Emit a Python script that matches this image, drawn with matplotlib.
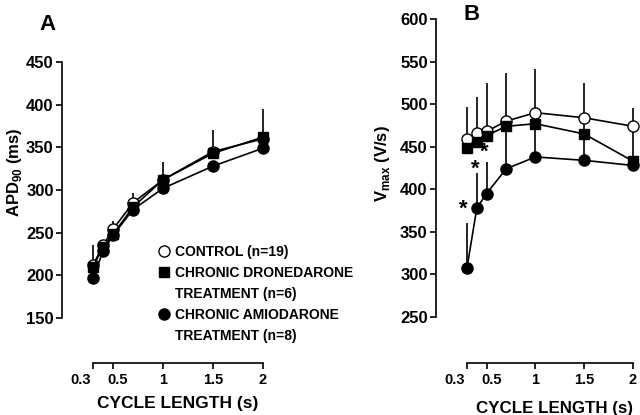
import matplotlib
matplotlib.use("Agg")
import matplotlib.pyplot as plt
from matplotlib.lines import Line2D
from matplotlib.transforms import ScaledTranslation

plt.rcParams['font.family'] = ['Liberation Sans', 'DejaVu Sans']
plt.rcParams['font.weight'] = 'bold'
plt.rcParams['mathtext.fontset'] = 'custom'
plt.rcParams['mathtext.rm'] = 'Liberation Sans'
plt.rcParams['mathtext.bf'] = 'Liberation Sans:bold'

# cycle lengths (s)
cycle = [0.3, 0.4, 0.5, 0.7, 1.0, 1.5, 2.0]

# panel A: APD90 (ms), upper error bars
apd_control = [212, 235, 254, 285, 312, 345, 360]
apd_control_err = [23, 5, 10, 12, 21, 25, 35]
apd_drone = [210, 233, 248, 280, 312, 343, 362]
apd_drone_err = [0, 0, 0, 0, 0, 0, 0]
apd_amio = [197, 228, 247, 277, 302, 328, 349]
apd_amio_err = [0, 0, 0, 0, 0, 0, 0]

# panel B: Vmax (V/s), upper error bars
vmax_control = [459, 466, 468, 480, 490, 484, 474]
vmax_control_err = [38, 42, 57, 57, 51, 41, 22]
vmax_drone = [448, 456, 463, 474, 477, 465, 433]
vmax_drone_err = [0, 0, 0, 0, 0, 0, 40]
vmax_amio = [308, 378, 395, 424, 438, 434, 428]
vmax_amio_err = [52, 41, 37, 50, 39, 50, 0]

# significance stars in panel B
star_x = [0.26, 0.38, 0.48]
star_y = [377, 424, 444]

labels = ['CONTROL (n=19)', 'CHRONIC DRONEDARONE', 'TREATMENT (n=6)',
          'CHRONIC AMIODARONE', 'TREATMENT (n=8)']
xticks = [0.3, 0.5, 1, 1.5, 2]
xticklabels = ['0.3', '0.5', '1', '1.5', '2']

fig = plt.figure(figsize=(6.4, 4.15), dpi=100)
axA = fig.add_axes([62 / 640, 52 / 415, 201 / 640, 301 / 415])
axB = fig.add_axes([436 / 640, 52 / 415, 197 / 640, 344 / 415])

styles = [
    dict(marker='o', mfc='white', mec='black', ms=8, mew=1.0),
    dict(marker='s', mfc='black', mec='black', ms=6.8, mew=1.0),
    dict(marker='o', mfc='black', mec='black', ms=8, mew=1.0),
]


def draw(ax, series):
    for (vals, err), st in zip(series, styles):
        ax.errorbar(cycle, vals, yerr=[[0] * len(err), err], color='black',
                    lw=1.2, elinewidth=1.2, capsize=0, clip_on=False, **st)


draw(axA, [(apd_control, apd_control_err), (apd_drone, apd_drone_err),
           (apd_amio, apd_amio_err)])
draw(axB, [(vmax_control, vmax_control_err), (vmax_drone, vmax_drone_err),
           (vmax_amio, vmax_amio_err)])

for sx, sy in zip(star_x, star_y):
    axB.text(sx, sy, '*', fontsize=16, fontweight='bold', ha='center', va='center')

axA.set_xlim(-0.01, 2.0)
axA.set_ylim(97.3, 450)
axA.set_yticks(range(150, 451, 50))
axA.spines['left'].set_bounds(150, 450)

axB.set_xlim(-0.018, 2.0)
axB.set_ylim(196, 600)
axB.set_yticks(range(250, 601, 50))
axB.spines['left'].set_bounds(250, 600)

for ax in (axA, axB):
    ax.set_xticks(xticks)
    ax.set_xticklabels(xticklabels)
    ax.spines['bottom'].set_bounds(0.3, 2)
    ax.spines['top'].set_visible(False)
    ax.spines['right'].set_visible(False)
    for s in ('left', 'bottom'):
        ax.spines[s].set_linewidth(1.2)
    ax.tick_params(direction='out', length=4, width=1.2, pad=3)
    ax.tick_params(axis='y', labelsize=12, pad=2)
    ax.tick_params(axis='x', labelsize=10.5)
    ax.patch.set_alpha(0)
    for t in ax.get_xticklabels() + ax.get_yticklabels():
        t.set_fontweight('bold')
    # the first two x labels sit apart in the original
    xl = ax.get_xticklabels()
    xl[0].set_ha('right')
    xl[0].set_transform(xl[0].get_transform() + ScaledTranslation(-2 / 100, 0, fig.dpi_scale_trans))
    xl[1].set_transform(xl[1].get_transform() + ScaledTranslation(5 / 100, 0, fig.dpi_scale_trans))

axA.set_xlabel('CYCLE LENGTH (s)', fontsize=12.5, fontweight='bold')
axA.xaxis.set_label_coords(0.577, -0.11)
axB.set_xlabel('CYCLE LENGTH (s)', fontsize=12.2, fontweight='bold')
axB.xaxis.set_label_coords(0.60, -0.11)

axA.set_ylabel(r'APD$_{\mathbf{90}}$ (ms)', fontsize=12, fontweight='bold')
axA.yaxis.set_label_coords(-0.19, 0.635)
axB.set_ylabel(r'V$_{\mathrm{max}}$ (V/s)', fontsize=12, fontweight='bold')
axB.yaxis.set_label_coords(-0.225, 0.58)

fig.text(48 / 640, 1 - 24 / 415, 'A', fontsize=16, fontweight='bold', ha='center', va='center')
fig.text(472 / 640, 1 - 14 / 415, 'B', fontsize=16, fontweight='bold', ha='center', va='center')

handles = [
    Line2D([], [], ls='none', **styles[0]),
    Line2D([], [], ls='none', **styles[1]),
    Line2D([], [], ls='none'),
    Line2D([], [], ls='none', **styles[2]),
    Line2D([], [], ls='none'),
]
axA.legend(handles, labels, loc='upper left', bbox_to_anchor=(158 / 640, 1 - 245 / 415),
           bbox_transform=fig.transFigure, frameon=False, borderpad=0, borderaxespad=0,
           handlelength=0.9, handletextpad=0.35, labelspacing=0.5,
           prop=dict(family='Liberation Sans', weight='bold', size=10))

fig.savefig('out.png', dpi=100)
